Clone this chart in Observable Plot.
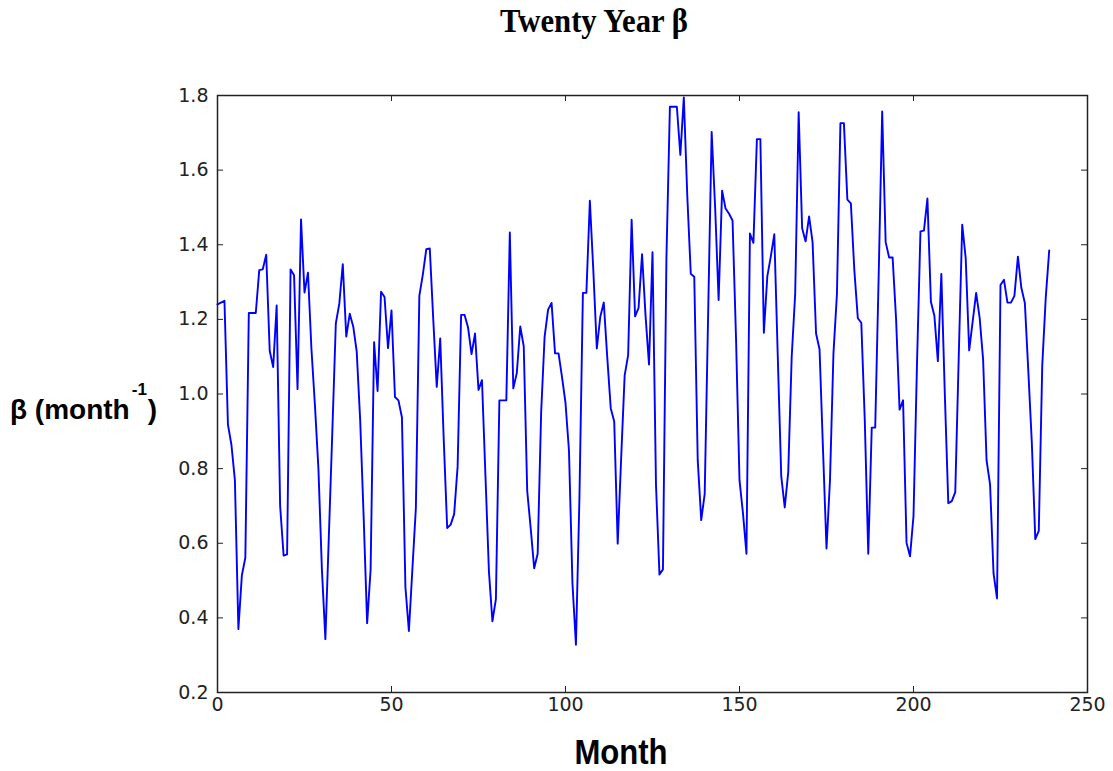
<!DOCTYPE html>
<html>
<head>
<meta charset="utf-8">
<script src="https://cdn.jsdelivr.net/npm/d3@7"></script>
<script src="https://cdn.jsdelivr.net/npm/@observablehq/plot@0.6"></script>
<style>
  html, body { margin: 0; padding: 0; background: #fff; }
  #wrap { position: relative; width: 1113px; height: 771px; overflow: hidden; }
  #title { position: absolute; left: 594px; top: 3px; transform: translateX(-50%) scaleX(0.93);
    font-family: "Liberation Serif", "Times New Roman", serif; font-weight: bold; font-size: 33px; white-space: nowrap; color: #000; }
  #ylab { position: absolute; left: 10px; top: 396px; font-family: "Liberation Sans", Arial, sans-serif;
    font-weight: bold; font-size: 28px; white-space: nowrap; color: #000; line-height: 1; }
  #ylab sup { font-size: 17px; position: relative; top: -24px; vertical-align: baseline; margin-left: 2px; margin-right: 1px; }
  #xlab { position: absolute; left: 621px; top: 735px; transform: translateX(-50%) scaleX(0.9);
    font-family: "Liberation Sans", Arial, sans-serif; font-weight: bold; font-size: 34.5px; white-space: nowrap; color: #000; line-height: 1; }
  svg { position: absolute; left: 0; top: 0; }
</style>
</head>
<body>
<div id="wrap">
  <div id="title">Twenty Year β</div>
  <div id="ylab">β (month<sup>-1</sup>)</div>
  <div id="xlab">Month</div>
</div>
<script>
const beta = [
  1.24, 1.245, 1.25, 0.918, 0.864, 0.769, 0.37, 0.514, 0.561, 1.217,
  1.217, 1.217, 1.332, 1.334, 1.373, 1.116, 1.072, 1.237, 0.70, 0.567,
  0.57, 1.334, 1.318, 1.013, 1.468, 1.272, 1.325, 1.12, 0.97, 0.80,
  0.53, 0.343, 0.62, 0.90, 1.189, 1.242, 1.348, 1.154, 1.215, 1.181,
  1.114, 0.93, 0.67, 0.386, 0.53, 1.139, 1.008, 1.274, 1.26, 1.123,
  1.224, 0.992, 0.983, 0.937, 0.482, 0.365, 0.53, 0.694, 1.263, 1.32,
  1.388, 1.39, 1.20, 1.019, 1.149, 0.88, 0.641, 0.65, 0.678, 0.806,
  1.212, 1.212, 1.178, 1.107, 1.162, 1.011, 1.037, 0.78, 0.524, 0.391,
  0.45, 0.983, 0.983, 0.983, 1.433, 1.015, 1.056, 1.181, 1.128, 0.74,
  0.64, 0.533, 0.572, 0.95, 1.154, 1.226, 1.244, 1.109, 1.109, 1.045,
  0.976, 0.848, 0.492, 0.328, 0.72, 1.271, 1.271, 1.518, 1.33, 1.122,
  1.207, 1.245, 1.098, 0.962, 0.926, 0.599, 0.83, 1.05, 1.104, 1.467,
  1.208, 1.231, 1.375, 1.21, 1.079, 1.38, 0.758, 0.516, 0.53, 1.364,
  1.77, 1.77, 1.77, 1.641, 1.795, 1.53, 1.322, 1.314, 0.822, 0.662,
  0.732, 1.22, 1.702, 1.50, 1.252, 1.545, 1.497, 1.483, 1.465, 1.15,
  0.769, 0.68, 0.572, 1.43, 1.405, 1.683, 1.683, 1.164, 1.316, 1.369,
  1.428, 1.10, 0.779, 0.696, 0.79, 1.10, 1.268, 1.755, 1.444, 1.409,
  1.476, 1.407, 1.162, 1.12, 0.85, 0.586, 0.769, 1.109, 1.268, 1.726,
  1.726, 1.521, 1.511, 1.332, 1.203, 1.191, 0.93, 0.572, 0.91, 0.91,
  1.32, 1.757, 1.407, 1.366, 1.366, 1.2, 0.958, 0.983, 0.601, 0.565,
  0.673, 1.08, 1.436, 1.438, 1.524, 1.247, 1.21, 1.088, 1.322, 1.0,
  0.707, 0.713, 0.737, 1.10, 1.454, 1.364, 1.117, 1.194, 1.271, 1.205,
  1.093, 0.822, 0.758, 0.519, 0.452, 1.292, 1.306, 1.245, 1.245, 1.263,
  1.368, 1.284, 1.244, 1.06, 0.87, 0.611, 0.633, 1.077, 1.258, 1.385
];
const xTicks = [0, 50, 100, 150, 200, 250];
const yTicks = [0.2, 0.4, 0.6, 0.8, 1.0, 1.2, 1.4, 1.6, 1.8];

const W = 1113, H = 771;
const mL = 217, mR = 26, mT = 95, mB = 79;
const pw = W - mL - mR, ph = H - mT - mB;
const tick = 6;
const ink = "#222";

const chart = Plot.plot({
  width: W, height: H,
  marginLeft: mL, marginRight: mR, marginTop: mT, marginBottom: mB,
  x: {domain: [0, 250]},
  y: {domain: [0.2, 1.8]},
  style: {fontFamily: "DejaVu Sans, sans-serif", fontSize: "19px", color: ink, background: "transparent", overflow: "visible"},
  marks: [
    Plot.axisY(yTicks, {tickSize: 0, tickPadding: 9, tickFormat: d => d.toFixed(1), label: null, fill: ink}),
    Plot.axisX(xTicks, {tickSize: 0, tickPadding: 5, label: null, fill: ink}),
    Plot.tickY(yTicks, {y: d => d, insetRight: pw - tick, stroke: ink, strokeWidth: 1}),
    Plot.tickY(yTicks, {y: d => d, insetLeft: pw - tick, stroke: ink, strokeWidth: 1}),
    Plot.tickX(xTicks, {x: d => d, insetTop: ph - tick, stroke: ink, strokeWidth: 1}),
    Plot.tickX(xTicks, {x: d => d, insetBottom: ph - tick, stroke: ink, strokeWidth: 1}),
    Plot.line(beta, {x: (d, i) => i, y: d => d, stroke: "#0000ff", strokeWidth: 1.9}),
    Plot.frame({stroke: ink, strokeWidth: 1.5})
  ]
});
document.getElementById("wrap").prepend(chart);
</script>
</body>
</html>
